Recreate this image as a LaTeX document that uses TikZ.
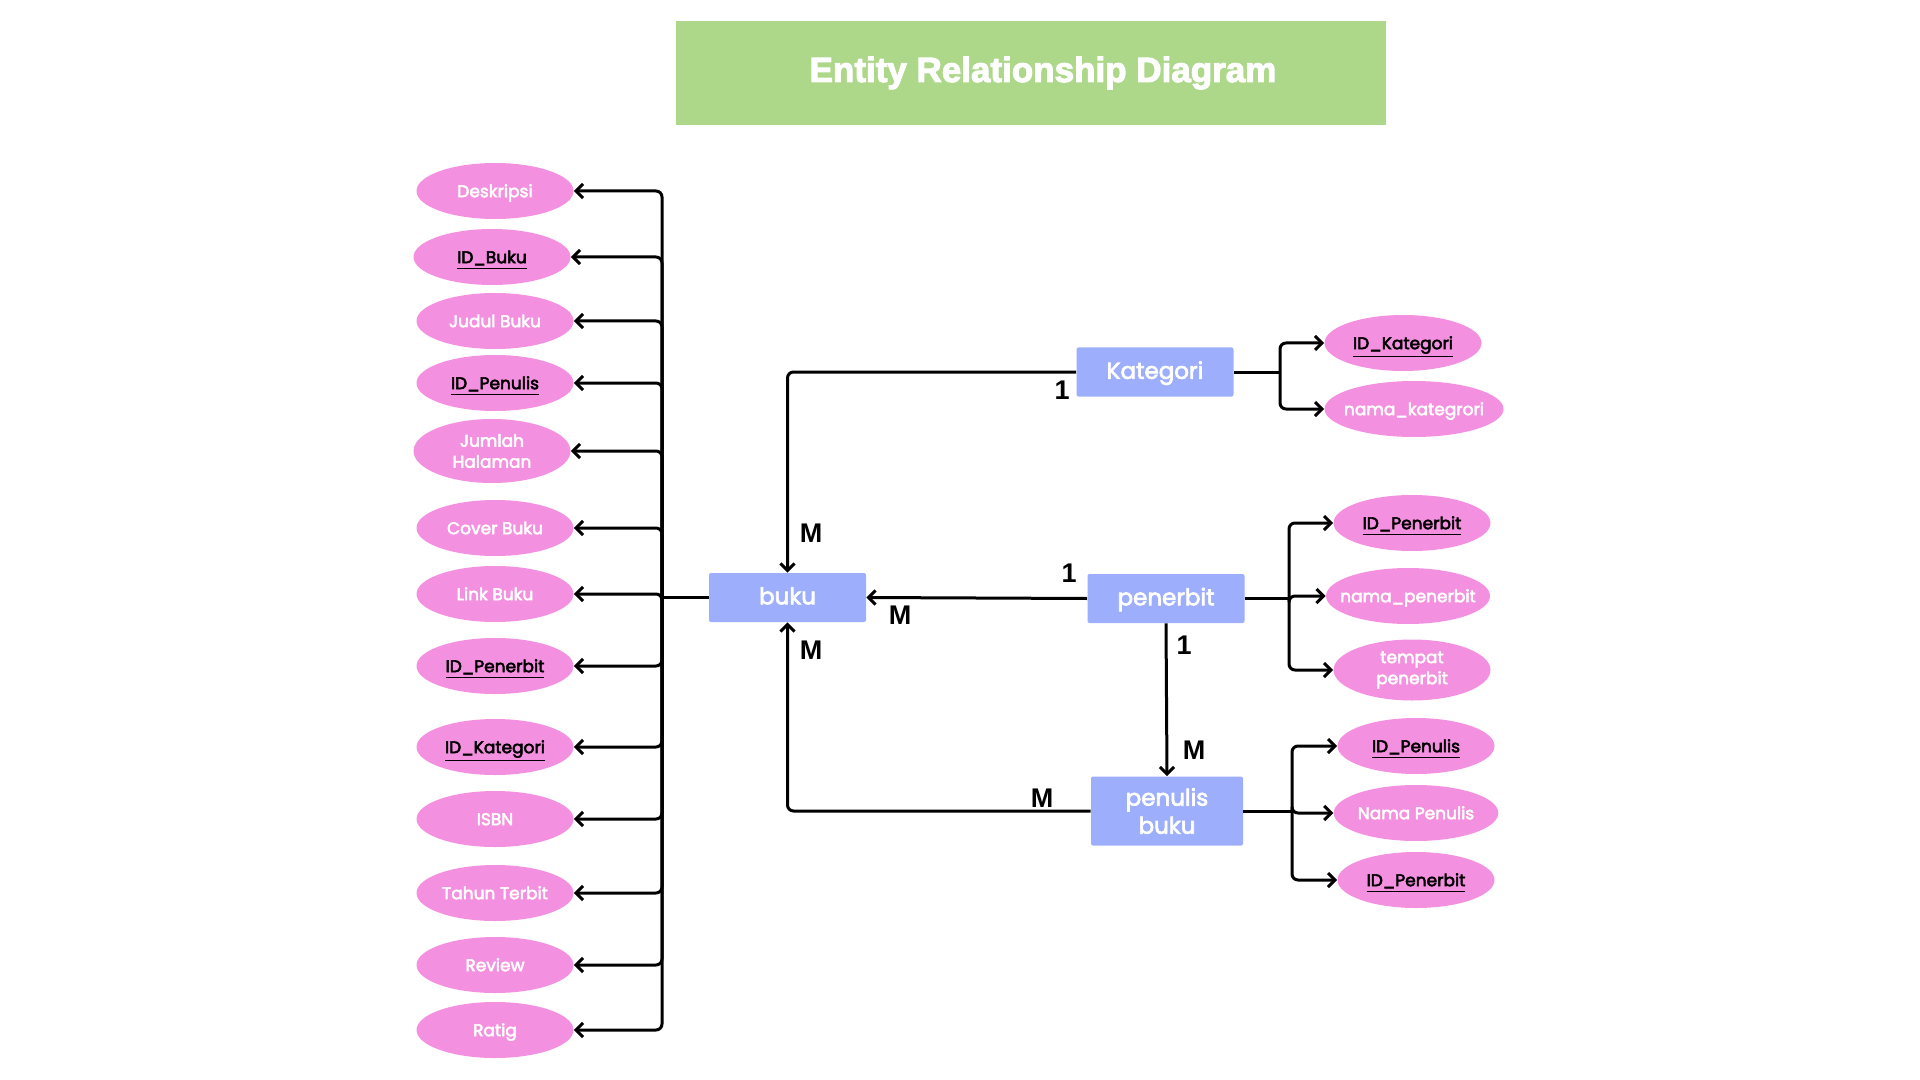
\documentclass[tikz,border=0pt]{standalone}
\usepackage{fontspec}
\setmainfont{Poppins}
\newfontfamily\labelfont[FakeBold=3]{Poppins}
\newfontfamily\headfont{Liberation Sans}
\newfontfamily\titlefont[FakeBold=3]{Liberation Sans Bold}
\usetikzlibrary{shapes.geometric,arrows.meta}
\definecolor{titlegreen}{HTML}{ADD88A}
\definecolor{entityblue}{HTML}{9CAEFC}
\definecolor{attrpink}{HTML}{F490E0}

\begin{document}
\begin{tikzpicture}
   [
   x=0.5pt, y=-0.5pt,
   titlebox/.style={rectangle, fill=titlegreen, text=white, minimum width=355pt, minimum height=52pt, font=\titlefont\fontsize{17.5}{18}\selectfont},
   entity/.style={rectangle, fill=entityblue, rounded corners=1pt, text=white, align=center, minimum width=78.5pt, minimum height=24.5pt, inner sep=0pt, text height=0.72em, text depth=0.04em, font=\labelfont\fontsize{11.5}{14}\selectfont},
   attr/.style={ellipse, fill=attrpink, text=white, align=center, minimum width=78.5pt, minimum height=28pt, inner sep=0pt, text height=0.72em, text depth=0.1em, font=\labelfont\fontsize{8.5}{10.5}\selectfont},
   keyattr/.style={attr, text=black},
   twolines/.style={text height=, text depth=},
   link/.style={line width=1.5pt, rounded corners=3pt},
   attrarrow/.style={link, -{Straight Barb[length=3.5pt,width=7pt]}},
   card/.style={font=\headfont\bfseries\fontsize{13.5}{14}\selectfont},
   ]
 \useasboundingbox (0,0) rectangle (1920,1080);
 \node at (1031,73) [titlebox] (title) {\hspace*{12pt}Entity Relationship Diagram};

 % entities
 \node at (787.5,597.5) [entity] (buku) {buku};
 \node at (1155,372) [entity] (kategori) {Kategori};
 \node at (1166,598.5) [entity] (penerbit) {penerbit};
 \node at (1167,811) [entity, twolines, minimum width=76pt, minimum height=34.5pt] (penulis) {penulis\\buku};

 % buku attributes
 \node at (495,191) [attr] (deskripsi) {Deskripsi};
 \node at (492,257) [keyattr] (idbuku) {\underline{ID\_Buku}};
 \node at (495,321) [attr] (judul) {Judul Buku};
 \node at (495,383) [keyattr] (idpenulis) {\underline{ID\_Penulis}};
 \node at (492,451) [attr, twolines, minimum height=32pt] (halaman) {Jumlah\\Halaman};
 \node at (495,528) [attr] (cover) {Cover Buku};
 \node at (495,594) [attr] (link) {Link Buku};
 \node at (495,666) [keyattr] (idpenerbit) {\underline{ID\_Penerbit}};
 \node at (495,747) [keyattr] (idkategori) {\underline{ID\_Kategori}};
 \node at (495,819) [attr] (isbn) {ISBN};
 \node at (495,893) [attr] (tahun) {Tahun Terbit};
 \node at (495,965) [attr] (review) {Review};
 \node at (495,1030) [attr] (rating) {Ratig};

 % kategori attributes
 \node at (1403,343) [keyattr] (katid) {\underline{ID\_Kategori}};
 \node at (1414,409) [attr, minimum width=89.5pt, inner xsep=-8pt] (katnama) {nama\_kategrori};

 % penerbit attributes
 \node at (1412,523) [keyattr] (pubid) {\underline{ID\_Penerbit}};
 \node at (1408,596) [attr, minimum width=82pt, inner xsep=-7pt] (pubnama) {nama\_penerbit};
 \node at (1412,670) [attr, twolines, minimum height=30.5pt] (pubtempat) {tempat\\penerbit};

 % penulis buku attributes
 \node at (1416,746) [keyattr] (penid) {\underline{ID\_Penulis}};
 \node at (1416,813) [attr] (pennama) {Nama Penulis};
 \node at (1416,880) [keyattr] (penpub) {\underline{ID\_Penerbit}};

 % buku to its attributes
 \coordinate (bus) at (662,597.5);
 \draw[link] (buku.west) -- (bus);
 \draw[attrarrow] (bus) |- (deskripsi.east);
 \draw[attrarrow] (bus) |- (idbuku.east);
 \draw[attrarrow] (bus) |- (judul.east);
 \draw[attrarrow] (bus) |- (idpenulis.east);
 \draw[attrarrow] (bus) |- (halaman.east);
 \draw[attrarrow] (bus) |- (cover.east);
 \draw[attrarrow] (bus) |- (link.east);
 \draw[attrarrow] (bus) |- (idpenerbit.east);
 \draw[attrarrow] (bus) |- (idkategori.east);
 \draw[attrarrow] (bus) |- (isbn.east);
 \draw[attrarrow] (bus) |- (tahun.east);
 \draw[attrarrow] (bus) |- (review.east);
 \draw[attrarrow] (bus) |- (rating.east);

 % other entities to their attributes
 \coordinate (katbus) at (1280,372);
 \draw[link] (kategori.east) -- (katbus);
 \draw[attrarrow] (katbus) |- (katid.west);
 \draw[attrarrow] (katbus) |- (katnama.west);

 \coordinate (pubbus) at (1289,598.5);
 \draw[link] (penerbit.east) -- (pubbus);
 \draw[attrarrow] (pubbus) |- (pubid.west);
 \draw[attrarrow] (pubbus) |- (pubnama.west);
 \draw[attrarrow] (pubbus) |- (pubtempat.west);

 \coordinate (penbus) at (1292,811);
 \draw[link] (penulis.east) -- (penbus);
 \draw[attrarrow] (penbus) |- (penid.west);
 \draw[attrarrow] (penbus) |- (pennama.west);
 \draw[attrarrow] (penbus) |- (penpub.west);

 % relationships
 \draw[attrarrow] (kategori.west) -| (buku.north);
 \draw[attrarrow] (penerbit.west) -- (buku.east);
 \draw[attrarrow] (penerbit.south) -- (penulis.north);
 \draw[attrarrow] (penulis.west) -| (buku.south);

 % cardinalities
 \node at (1062,390) [card] (c1) {1};
 \node at (811,533) [card] (c2) {M};
 \node at (1069,573) [card] (c3) {1};
 \node at (900,615) [card] (c4) {M};
 \node at (1184,645) [card] (c5) {1};
 \node at (1194,750) [card] (c6) {M};
 \node at (1042,798) [card] (c7) {M};
 \node at (811,650) [card] (c8) {M};
   \end{tikzpicture}
\end{document}
